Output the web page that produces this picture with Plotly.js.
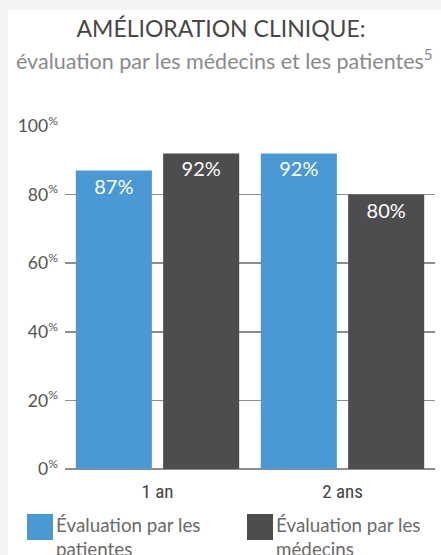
<!DOCTYPE html>
<html>
<head>
<meta charset="utf-8">
<script src="https://cdn.plot.ly/plotly-3.0.1.min.js"></script>
<style>
html,body{margin:0;padding:0;background:#f3f4f3;width:441px;height:555px;overflow:hidden;}
#chart{position:absolute;left:8px;top:10px;width:433px;height:545px;background:#fff;}
</style>
</head>
<body>
<div id="chart"></div>
<script>
const categories = ['1 an', '2 ans'];
const seriesNames = ['Évaluation par les<br>patientes', 'Évaluation par les<br>médecins'];
const patientes = [87, 92];
const medecins = [92, 80];
const tickVals = [0, 20, 40, 60, 80, 100];
const tickLabels = ['0<sup>%</sup>', '20<sup>%</sup>', '40<sup>%</sup>', '60<sup>%</sup>', '80<sup>%</sup>', '100<sup>%</sup>'];
const colors = ['#4a98d4', '#4d4d4f'];

const FONT = 'Lato, "Open Sans", sans-serif';
const L = 57, T = 116, W = 370, H = 343;
const fx = x => (x - 8 - L) / W;
const fy = y => 1 - (y - 10 - T) / H;

const series = [patientes, medecins];
const traces = series.map((vals, i) => ({
  type: 'bar',
  x: categories,
  y: vals,
  name: seriesNames[i],
  marker: {color: colors[i]},
  text: vals.map(v => v + '%'),
  textposition: 'inside',
  insidetextanchor: 'end',
  textfont: {color: '#ffffff', size: 20, family: FONT},
  hoverinfo: 'none'
}));

const legendX = [27, 247];
const shapes = [];
const annotations = [];
legendX.forEach((px, i) => {
  shapes.push({type: 'rect', xref: 'paper', yref: 'paper',
    x0: fx(px), x1: fx(px + 26), y0: fy(540), y1: fy(514),
    fillcolor: colors[i], line: {width: 0}});
  annotations.push({xref: 'paper', yref: 'paper', x: fx(px + 27), y: fy(511),
    xanchor: 'left', yanchor: 'top', align: 'left', showarrow: false,
    text: seriesNames[i], font: {family: FONT, size: 18.8, color: '#6a6a6a'}});
});
annotations.push({xref: 'paper', yref: 'paper', x: fx(224), y: fy(60),
  xanchor: 'center', yanchor: 'middle', showarrow: false,
  text: 'évaluation par les médecins et les patientes<sup>5</sup>',
  font: {family: FONT, size: 21.5, color: '#8a8a8a'}});

const layout = {
  width: 433, height: 545,
  margin: {l: L, r: 433 - L - W, t: T, b: 545 - T - H},
  paper_bgcolor: '#ffffff', plot_bgcolor: '#ffffff',
  title: {text: 'AMÉLIORATION CLINIQUE:', x: (221 - 8) / 433, xanchor: 'center',
    y: 1 - (29 - 10) / 545, yanchor: 'middle',
    font: {family: FONT, size: 23, color: '#474747'}},
  showlegend: false,
  barmode: 'group',
  bargap: 0.056,
  bargroupgap: 0.129,
  xaxis: {tickfont: {family: '"Liberation Sans Narrow", "Roboto Condensed", Roboto, sans-serif', size: 19, color: '#444'},
    showgrid: false, zeroline: false, showline: false, ticks: '', ticklabelstandoff: 9, fixedrange: true},
  yaxis: {range: [0, 100], tickvals: tickVals, ticktext: tickLabels,
    tickfont: {family: FONT, size: 17.5, color: '#555'},
    showgrid: true, gridcolor: '#8e8e8e', gridwidth: 1.5,
    zeroline: true, zerolinecolor: '#8e8e8e', zerolinewidth: 1.5,
    showline: false, ticks: '', ticklabelstandoff: 6, fixedrange: true},
  shapes: shapes,
  annotations: annotations
};

Plotly.newPlot('chart', traces, layout, {displayModeBar: false, staticPlot: true});
</script>
</body>
</html>
